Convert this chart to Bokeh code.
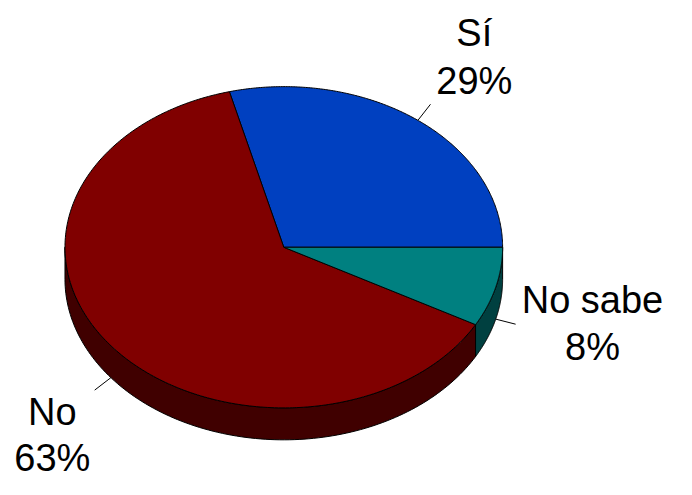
import numpy as np
from bokeh.plotting import figure
from bokeh.models import Range1d
from bokeh.core.properties import value
from bokeh.embed import file_html
from bokeh.resources import INLINE

# ---- data ----
labels = ["Sí", "No", "No sabe"]
values = [29, 63, 8]
pct_labels = ["29%", "63%", "8%"]
top_colors = ["#0040C0", "#800000", "#008080"]
side_colors = ["#002060", "#400000", "#004040"]

# ---- layout (reference-image coordinates) ----
W, H = 676, 479
CX, CY = 290, 255      # pie centre
RX, RY = 224, 166      # ellipse radii of the tilted top
DEPTH = 33             # height of the side wall
# x, line1 vertical middle, line2 vertical middle
text_pos = [(485, 34, 83), (53, 425, 473), (606, 310, 358)]

p = figure(width=W, height=H, x_range=Range1d(0, 692), y_range=Range1d(495, 0),
           output_backend="svg", toolbar_location=None, min_border=0)
p.axis.visible = False
p.grid.visible = False
p.outline_line_color = None
p.background_fill_color = "white"
p.border_fill_color = "white"

total = float(sum(values))
angles = np.cumsum([0.0] + [v / total * 360.0 for v in values])

def pt(theta_deg, dy=0.0):
    t = np.radians(theta_deg)
    return CX + RX * np.cos(t), CY - RY * np.sin(t) + dy

# side walls (visible front half: 180..360 deg)
side_xs, side_ys, side_cols = [], [], []
for i in range(len(values)):
    a0, a1 = max(angles[i], 180.0), min(angles[i + 1], 360.0)
    if a1 <= a0:
        continue
    th = np.linspace(a0, a1, 120)
    xt, yt = pt(th)
    xb, yb = pt(th[::-1], DEPTH)
    side_xs.append(list(xt) + list(xb))
    side_ys.append(list(yt) + list(yb))
    side_cols.append(side_colors[i])
p.patches(side_xs, side_ys, fill_color=side_cols, line_color="black", line_width=1)

# top faces
top_xs, top_ys = [], []
for i in range(len(values)):
    th = np.linspace(angles[i], angles[i + 1], 240)
    x, y = pt(th)
    top_xs.append([CX] + list(x))
    top_ys.append([CY] + list(y))
p.patches(top_xs, top_ys, fill_color=top_colors, line_color="black", line_width=1)

# leader lines
for i in range(len(values)):
    mid = (angles[i] + angles[i + 1]) / 2.0
    dy = DEPTH if np.sin(np.radians(mid)) < 0 else 0
    x0, y0 = pt(mid, dy)
    t = np.radians(mid)
    x1, y1 = x0 + 21 * np.cos(t), y0 - 21 * np.sin(t)
    p.line([x0, x1], [y0, y1], line_color="black", line_width=1)

# labels
for i in range(len(values)):
    tx, m1, m2 = text_pos[i]
    p.text(x=[tx, tx], y=[m1, m2], text=[labels[i], pct_labels[i]],
           text_font=value("Liberation Sans"), text_font_size="38px",
           text_align="center", text_baseline="middle", text_color="black")

open("out.html", "w").write(file_html(p, INLINE))
